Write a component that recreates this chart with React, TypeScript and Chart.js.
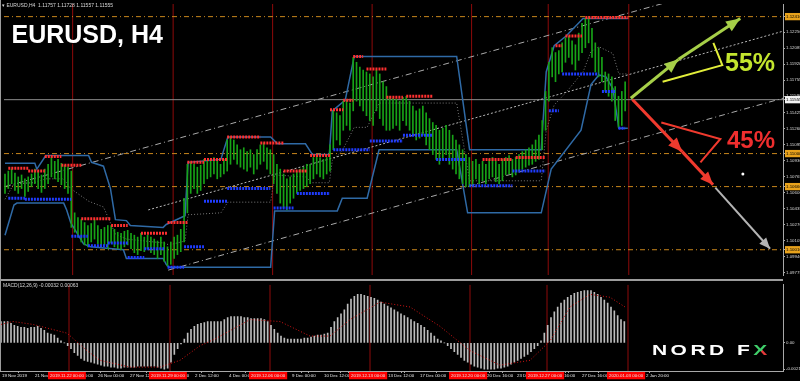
import React, { useEffect, useRef } from "react";
import { Chart, registerables } from "chart.js";
Chart.register(...registerables);

// ---------- price bars (H4), one per bar index ----------
const barHigh = [
  1.1079,1.1082,1.1084,1.1080,1.1076,1.1078,1.1074,1.1076,1.1079,1.1084,
  1.1082,1.1078,1.1084,1.1089,1.1096,1.1092,1.1094,1.1090,1.1088,1.1086,
  1.1082,1.1039,1.1034,1.1032,1.1029,1.1026,1.1028,1.1032,1.1026,1.1022,
  1.1024,1.1026,1.1026,1.1022,1.1019,1.1018,1.1020,1.1021,1.1018,1.1016,
  1.1014,1.1018,1.1014,1.1016,1.1014,1.1012,1.1010,1.1014,1.1009,1.1004,
  1.1009,1.1014,1.1016,1.1022,1.1054,1.1089,1.1091,1.1089,1.1086,1.1088,
  1.1094,1.1092,1.1094,1.1096,1.1092,1.1089,1.1094,1.1114,1.1117,1.1114,
  1.1109,1.1104,1.1106,1.1102,1.1104,1.1099,1.1104,1.1109,1.1111,1.1106,
  1.1104,1.1099,1.1089,1.1084,1.1079,1.1074,1.1076,1.1079,1.1082,1.1084,
  1.1086,1.1089,1.1089,1.1096,1.1098,1.1096,1.1094,1.1096,1.1109,1.1144,
  1.1142,1.1139,1.1154,1.1155,1.1152,1.1199,1.1194,1.1189,1.1186,1.1184,
  1.1182,1.1179,1.1186,1.1182,1.1174,1.1169,1.1159,1.1157,1.1156,1.1154,
  1.1158,1.1159,1.1154,1.1149,1.1144,1.1146,1.1149,1.1142,1.1136,1.1132,
  1.1129,1.1124,1.1126,1.1129,1.1124,1.1119,1.1114,1.1109,1.1104,1.1099,
  1.1096,1.1092,1.1094,1.1089,1.1092,1.1089,1.1094,1.1096,1.1092,1.1089,
  1.1094,1.1096,1.1098,1.1094,1.1096,1.1099,1.1102,1.1104,1.1106,1.1109,
  1.1114,1.1119,1.1134,1.1164,1.1194,1.1209,1.1204,1.1206,1.1214,1.1219,
  1.1221,1.1216,1.1212,1.1224,1.1234,1.1239,1.1241,1.1229,1.1214,1.1209,
  1.1199,1.1184,1.1182,1.1179,1.1169,1.1159,1.1164,1.1174
];
const barLow = [
  1.1059,1.1064,1.1069,1.1062,1.1059,1.1064,1.1056,1.1061,1.1066,1.1069,
  1.1064,1.1060,1.1064,1.1069,1.1076,1.1074,1.1071,1.1068,1.1064,1.1059,
  1.1024,1.1019,1.1014,1.1009,1.1006,1.1004,1.1009,1.1012,1.1007,1.1004,
  1.1006,1.1002,1.1008,1.1004,1.1002,1.1001,1.1004,1.1006,1.1002,1.0998,
  1.0996,1.1000,1.0999,1.1002,1.0998,1.0996,1.0992,1.0996,1.0989,1.0984,
  1.0986,1.0992,1.0996,1.0999,1.1009,1.1039,1.1059,1.1064,1.1059,1.1062,
  1.1069,1.1074,1.1076,1.1079,1.1074,1.1076,1.1079,1.1082,1.1089,1.1094,
  1.1089,1.1086,1.1084,1.1082,1.1086,1.1079,1.1084,1.1089,1.1092,1.1084,
  1.1079,1.1069,1.1059,1.1049,1.1044,1.1042,1.1049,1.1054,1.1059,1.1062,
  1.1064,1.1066,1.1069,1.1074,1.1079,1.1076,1.1074,1.1079,1.1082,1.1104,
  1.1114,1.1109,1.1124,1.1129,1.1124,1.1144,1.1154,1.1149,1.1144,1.1139,
  1.1134,1.1129,1.1144,1.1136,1.1129,1.1124,1.1124,1.1126,1.1129,1.1124,
  1.1134,1.1129,1.1124,1.1119,1.1114,1.1116,1.1119,1.1109,1.1104,1.1099,
  1.1094,1.1089,1.1094,1.1099,1.1089,1.1084,1.1079,1.1074,1.1069,1.1066,
  1.1066,1.1067,1.1074,1.1069,1.1072,1.1069,1.1074,1.1076,1.1071,1.1069,
  1.1072,1.1078,1.1079,1.1076,1.1078,1.1082,1.1084,1.1086,1.1088,1.1089,
  1.1092,1.1094,1.1104,1.1124,1.1154,1.1179,1.1174,1.1182,1.1184,1.1194,
  1.1199,1.1192,1.1186,1.1196,1.1204,1.1209,1.1214,1.1199,1.1184,1.1179,
  1.1174,1.1164,1.1159,1.1154,1.1134,1.1127,1.1129,1.1144
];

// ---------- fractal resistance / support steps [startBar, endBar, price] ----------
const resistSteps = [
  [1,7,1.1085],[7,12,1.1082],[12,17,1.1097],[17,23,1.1088],[23,32,1.1033],[32,37,1.1026],
  [41,49,1.1018],[49,55,1.1029],[55,60,1.1091],[60,67,1.1094],[67,77,1.1117],[77,84,1.1111],
  [84,91,1.1082],[92,98,1.1098],[98,102,1.1145],[102,105,1.1155],[105,108,1.1200],[109,115,1.1187],
  [115,120,1.1158],[121,129,1.1159],[144,153,1.1094],[154,163,1.1096],[166,168,1.1211],
  [169,174,1.1221],[175,188,1.1240]
];
const supportSteps = [
  [1,6,1.1054],[6,20,1.1053],[20,25,1.1015],[25,31,1.1005],[31,37,1.1008],[37,42,1.0993],
  [42,48,1.1002],[49,54,1.0983],[54,60,1.1004],[60,67,1.1051],[67,80,1.1064],[81,87,1.1044],
  [88,98,1.1059],[99,110,1.1104],[110,120,1.1113],[120,129,1.1119],[130,139,1.1094],
  [140,153,1.1067],[153,163,1.1082],[164,167,1.1144],[168,179,1.1182],[180,184,1.1164],[185,187,1.1126]
];

// ---------- price channel (upper / lower / middle) [bar, price] ----------
const chanUpper = [
  [0,1.1090],[9,1.1090],[9.6,1.1084],[12.3,1.1098],[25.2,1.1098],[26.1,1.1091],[29.7,1.1087],
  [31.8,1.1064],[33.3,1.1032],[36.6,1.1031],[37.8,1.1026],[47.7,1.1024],[48.6,1.1027],[54.3,1.1036],
  [55.2,1.1091],[65.1,1.1094],[67.2,1.1117],[80.1,1.1117],[82.2,1.1110],[90.6,1.1110],[92.7,1.1099],
  [97.8,1.1099],[98.7,1.1144],[102.6,1.1155],[105.3,1.1200],[136.2,1.1200],[140.1,1.1104],
  [161.7,1.1104],[163.2,1.1184],[165.6,1.1211],[169.2,1.1221],[174.3,1.1239],[187.8,1.1239]
];
const chanLower = [
  [0,1.1016],[2.7,1.1047],[3.6,1.1049],[17.7,1.1049],[18.6,1.1042],[19.8,1.1029],[23.7,1.1007],
  [25.8,1.1004],[35.7,1.1001],[36.6,1.0992],[47.7,1.0992],[48.6,1.0986],[49.5,1.0983],[80.1,1.0983],
  [81.3,1.1041],[100.2,1.1041],[101.7,1.1054],[109.2,1.1054],[112.8,1.1104],[136.2,1.1104],
  [139.5,1.1039],[161.7,1.1039],[164.7,1.1084],[173.7,1.1124],[176.7,1.1171],[179.1,1.1181],
  [181.2,1.1179],[183.3,1.1167],[185.1,1.1126],[187.8,1.1126]
];
const chanMiddle = [
  [0,1.1053],[2.7,1.1069],[8.7,1.1070],[12.3,1.1074],[17.7,1.1074],[19.8,1.1064],[25.2,1.1051],
  [29.7,1.1045],[33.3,1.1017],[36.6,1.1012],[47.7,1.1008],[49.5,1.1006],[54.3,1.1010],[55.2,1.1037],
  [65.1,1.1039],[67.2,1.1050],[80.1,1.1050],[81.3,1.1078],[90.6,1.1076],[92.7,1.1070],[97.8,1.1070],
  [98.7,1.1093],[101.7,1.1103],[105.3,1.1127],[109.2,1.1127],[112.8,1.1152],[136.2,1.1152],
  [140.1,1.1072],[161.7,1.1072],[163.2,1.1124],[165.6,1.1150],[169.2,1.1163],[174.3,1.1184],
  [176.7,1.1205],[179.1,1.1210],[183.3,1.1203],[185.1,1.1182],[187.8,1.1182]
];

// ---------- trend channel lines ----------
const trendUpper = [[0,1.1066],[234.6,1.1289]];
const trendMiddle = [[43.2,1.1042],[234.6,1.1226]];
const trendLower = [[49.2,1.0980],[234.6,1.1157]];

// ---------- horizontal levels ----------
const levelPrices = [1.1241, 1.1100, 1.1066, 1.1001];
const lastPrice = 1.11555;

// ---------- forecast arrows ----------
const upArrow1 = [[188.7,1.1157],[203.1,1.1197]];
const upArrow2 = [[203.1,1.1197],[221.7,1.1239]];
const upBracket = [[198.3,1.1174],[216.3,1.1191],[213.6,1.1214]];
const downArrow1 = [[189.2,1.11557],[204.2,1.1102]];
const downArrow2 = [[204.2,1.1102],[213.5,1.1068]];
const downBracket = [[197.9,1.1132],[215.7,1.1115],[209.7,1.1091]];
const grayArrow = [[214.2,1.1065],[230.7,1.1002]];
const markerPoint = [222.5, 1.1079];

// ---------- time axis ----------
const weekBars = [20.4, 50.7, 80.7, 110.7, 140.7, 163.8, 188.1];
const weekLabels = ["2019.11.22 00:00","2019.11.29 00:00","2019.12.06 00:00","2019.12.13 00:00","2019.12.20 00:00","2019.12.27 00:00","2020.01.03 00:00"];
const timeBars = [0.3,10.2,19.8,29.1,38.7,48.6,58.2,68.4,78.3,87.3,96.9,106.8,116.1,125.7,135.6,145.8,154.8,164.4,174.3,184.2,193.5];
const timeLabels = ["19 Nov 2019","21 Nov 00:00","22 Nov 16:00","26 Nov 00:00","27 Nov 12:00","29 Nov 04:00","2 Dec 12:00","4 Dec 00:00","5 Dec 16:00","9 Dec 00:00","10 Dec 12:00","12 Dec 00:00","13 Dec 12:00","17 Dec 00:00","18 Dec 12:00","20 Dec 16:00","23 Dec 12:00","24 Dec 16:00","27 Dec 16:00","31 Dec 12:00","2 Jan 20:00"];

// ---------- price axis ticks ----------
const priceTicks = [1.09775,1.09940,1.10105,1.10270,1.10435,1.10600,1.10765,1.10930,1.11095,1.11260,1.11425,1.11590,1.11755,1.11920,1.12085,1.12250];

// ---------- MACD(12,26,9), values in 1e-5 ----------
const macdHist = [
  176,176,176,160,144,136,128,128,120,128,128,136,120,104,80,72,64,40,16,0,
  -24,-48,-80,-104,-128,-144,-152,-160,-168,-176,
  -184,-192,-192,-200,-200,-208,-208,-200,-200,-200,
  -200,-192,-192,-192,-192,-192,-192,-200,-208,-216,
  -208,-160,-96,-48,-8,32,80,112,136,152,
  160,168,176,176,176,176,176,192,208,216,
  216,216,216,208,208,200,200,200,200,192,
  176,144,112,80,56,40,32,32,32,32,
  32,40,40,48,56,64,64,72,80,128,
  176,208,240,272,320,360,384,400,400,392,
  384,376,368,352,336,320,304,288,272,256,
  240,224,208,192,176,160,144,128,104,80,
  56,32,16,0,-24,-48,-72,-96,-120,-144,
  -160,-176,-192,-200,-208,-216,-216,-216,-216,-208,
  -208,-200,-192,-176,-160,-144,-128,-112,-96,-72,
  -48,-24,16,80,144,208,256,296,328,352,
  376,392,408,416,424,432,432,432,416,400,
  376,352,328,296,264,224,192,176
];
const macdSignal = [
  [0,152],[3.6,176],[9.6,152],[19.8,80],[25.8,-64],[29.7,-144],[38.7,-200],[47.7,-200],[53.7,-144],
  [59.7,-24],[64.2,32],[74.7,192],[83.7,176],[92.7,56],[98.7,56],[104.7,192],[113.7,336],[122.7,296],
  [131.7,136],[140.7,-64],[149.7,-184],[158.7,-144],[164.7,16],[170.7,296],[176.7,400],[182.7,376],[187.2,296]
];
const macdTicks = [0, -217];
const MACD_UNIT = 1e-5;

const X_MIN = -0.3;
const X_MAX = 234.6;

const pts = (arr: number[][]) => arr.map(([x, y]) => ({ x, y }));
const steps = (segs: number[][]) => {
  const out: any[] = [];
  segs.forEach(([a, b, v]) => { out.push({ x: a, y: v }, { x: b, y: v }, { x: b, y: null }); });
  return out;
};
const verticals = (xs: number[], lo: number, hi: number) => {
  const out: any[] = [];
  xs.forEach((x) => { out.push({ x, y: lo }, { x, y: hi }, { x, y: null }); });
  return out;
};

const arrowPlugin = {
  id: "arrowHeads",
  afterDatasetsDraw(chart: any) {
    const ctx = chart.ctx;
    chart.data.datasets.forEach((ds: any, i: number) => {
      if (!ds.arrowSize) return;
      const meta = chart.getDatasetMeta(i);
      const p = meta.data;
      if (p.length < 2) return;
      const a = p[p.length - 2], b = p[p.length - 1];
      const ang = Math.atan2(b.y - a.y, b.x - a.x);
      const L = ds.arrowSize, W = ds.arrowSize * 0.42;
      const bx = b.x - L * Math.cos(ang), by = b.y - L * Math.sin(ang);
      ctx.save();
      ctx.fillStyle = ds.borderColor;
      ctx.beginPath();
      ctx.moveTo(b.x, b.y);
      ctx.lineTo(bx + W * Math.sin(ang), by - W * Math.cos(ang));
      ctx.lineTo(bx - W * Math.sin(ang), by + W * Math.cos(ang));
      ctx.closePath();
      ctx.fill();
      ctx.restore();
    });
  },
};

const AXIS_FONT = { family: "Liberation Sans, Arial, sans-serif", size: 4.4 };

export default function App() {
  const mainRef = useRef<HTMLCanvasElement>(null);
  const macdRef = useRef<HTMLCanvasElement>(null);

  useEffect(() => {
    const yMin = 1.0975, yMax = 1.1254;
    const lineBase = { type: "line", pointRadius: 0, fill: false, spanGaps: false, tension: 0 };
    const mainTicks = [
      ...priceTicks.map((v) => ({ value: v, kind: 0 })),
      ...levelPrices.map((v) => ({ value: v, kind: 1 })),
      { value: lastPrice, kind: 2 },
    ];
    const main = new Chart(mainRef.current as HTMLCanvasElement, {
      type: "bar",
      data: {
        datasets: [
          { ...lineBase, order: 20, data: verticals(weekBars, yMin, yMax), borderColor: "#8e0a0a", borderWidth: 1 },
          ...levelPrices.map((v) => ({ ...lineBase, order: 19, data: [{ x: X_MIN, y: v }, { x: X_MAX, y: v }], borderColor: "#c8861c", borderWidth: 1, borderDash: [5, 3, 1, 3] })),
          { ...lineBase, order: 18, data: [{ x: X_MIN, y: lastPrice }, { x: X_MAX, y: lastPrice }], borderColor: "#8c8c8c", borderWidth: 1 },
          { ...lineBase, order: 17, data: pts(trendUpper), borderColor: "#aaaaaa", borderWidth: 1, borderDash: [6, 3, 1, 3] },
          { ...lineBase, order: 17, data: pts(trendMiddle), borderColor: "#b8b8b8", borderWidth: 1, borderDash: [2, 2] },
          { ...lineBase, order: 17, data: pts(trendLower), borderColor: "#aaaaaa", borderWidth: 1, borderDash: [6, 3, 1, 3] },
          { ...lineBase, order: 16, data: pts(chanMiddle), borderColor: "#7a7a7a", borderWidth: 1, borderDash: [1, 2] },
          { ...lineBase, order: 15, data: pts(chanUpper), borderColor: "#2f6aa6", borderWidth: 1.5 },
          { ...lineBase, order: 15, data: pts(chanLower), borderColor: "#2f6aa6", borderWidth: 1.5 },
          { type: "bar", order: 12, data: barHigh.map((h, i) => ({ x: i, y: [barLow[i], h] })), backgroundColor: "#17a317", borderWidth: 0, barThickness: 1 },
          { ...lineBase, order: 10, data: steps(resistSteps), borderColor: "#ff3030", borderWidth: 3, borderDash: [2, 1] },
          { ...lineBase, order: 10, data: steps(supportSteps), borderColor: "#1f3cff", borderWidth: 3, borderDash: [2, 1] },
          { ...lineBase, order: 5, data: pts(grayArrow), borderColor: "#b4b4b4", borderWidth: 2, arrowSize: 11 },
          { ...lineBase, order: 4, data: pts(downBracket), borderColor: "#f03a2e", borderWidth: 2 },
          { ...lineBase, order: 4, data: pts(downArrow1), borderColor: "#f03a2e", borderWidth: 3, arrowSize: 14 },
          { ...lineBase, order: 4, data: pts(downArrow2), borderColor: "#f03a2e", borderWidth: 3, arrowSize: 13 },
          { ...lineBase, order: 3, data: pts(upBracket), borderColor: "#e2ee3a", borderWidth: 2 },
          { ...lineBase, order: 3, data: pts(upArrow1), borderColor: "#a6cf48", borderWidth: 3, arrowSize: 14 },
          { ...lineBase, order: 3, data: pts(upArrow2), borderColor: "#a6cf48", borderWidth: 3, arrowSize: 14 },
          { type: "scatter", order: 2, data: [{ x: markerPoint[0], y: markerPoint[1] }], pointRadius: 1.5, backgroundColor: "#ffffff", borderWidth: 0 },
        ] as any,
      },
      options: {
        responsive: false,
        animation: false,
        events: [],
        layout: { padding: 0 },
        plugins: { legend: { display: false }, tooltip: { enabled: false } },
        scales: {
          x: { type: "linear", display: false, min: X_MIN, max: X_MAX, offset: false },
          y: {
            type: "linear", position: "right", min: yMin, max: yMax, bounds: "data",
            afterFit: (s: any) => { s.width = 17; },
            afterBuildTicks: (s: any) => { s.ticks = mainTicks.map((t) => ({ ...t })); },
            border: { color: "#a8a8a8", width: 1 },
            grid: { drawOnChartArea: false, drawTicks: true, tickLength: 2, color: "#a8a8a8" },
            ticks: {
              autoSkip: false, padding: 1, font: AXIS_FONT,
              callback: (v: any) => Number(v).toFixed(5),
              color: (c: any) => (c.tick && c.tick.kind ? "#000000" : "#d8d8d8"),
              showLabelBackdrop: (c: any) => !!(c.tick && c.tick.kind),
              backdropColor: (c: any) => (c.tick && c.tick.kind === 2 ? "#f2f2f2" : "#e8a21c"),
              backdropPadding: { left: 1, right: 4, top: 1, bottom: 1 },
            } as any,
          },
        },
      },
      plugins: [arrowPlugin],
    } as any);

    const mMin = -232 * MACD_UNIT, mMax = 480 * MACD_UNIT;
    const xTicks = [
      ...timeBars.map((v, i) => ({ value: v, lab: timeLabels[i], red: false })),
      ...weekBars.map((v, i) => ({ value: v - 5.7, lab: weekLabels[i], red: true })),
    ];
    const macd = new Chart(macdRef.current as HTMLCanvasElement, {
      type: "bar",
      data: {
        datasets: [
          { ...lineBase, order: 20, data: verticals(weekBars, mMin, mMax), borderColor: "#8e0a0a", borderWidth: 1 },
          { type: "bar", order: 10, data: macdHist.map((v, i) => ({ x: i, y: v * MACD_UNIT })), backgroundColor: "#bdbdbd", borderWidth: 0, barThickness: 1 },
          { ...lineBase, order: 5, data: macdSignal.map(([x, y]) => ({ x, y: y * MACD_UNIT })), borderColor: "#d21414", borderWidth: 1, borderDash: [1, 2] },
        ] as any,
      },
      options: {
        responsive: false,
        animation: false,
        events: [],
        layout: { padding: { top: 1 } },
        plugins: { legend: { display: false }, tooltip: { enabled: false } },
        scales: {
          x: {
            type: "linear", min: X_MIN, max: X_MAX, offset: false,
            afterFit: (s: any) => { s.height = 10; },
            afterBuildTicks: (s: any) => { s.ticks = xTicks.map((t) => ({ ...t })); },
            border: { color: "#a8a8a8", width: 1 },
            grid: { drawOnChartArea: false, drawTicks: true, tickLength: 2, color: "#a8a8a8" },
            ticks: {
              autoSkip: false, maxRotation: 0, minRotation: 0, align: "start", padding: 0, font: AXIS_FONT,
              color: "#e6e6e6",
              callback: (_v: any, i: number) => xTicks[i] ? xTicks[i].lab : "",
              showLabelBackdrop: (c: any) => !!(c.tick && c.tick.red),
              backdropColor: "#ff0000",
              backdropPadding: { left: 2, right: 2, top: 1, bottom: 1 },
            } as any,
          },
          y: {
            type: "linear", position: "right", min: mMin, max: mMax, bounds: "data",
            afterFit: (s: any) => { s.width = 17; },
            afterBuildTicks: (s: any) => { s.ticks = macdTicks.map((v) => ({ value: v * MACD_UNIT })); },
            border: { color: "#a8a8a8", width: 1 },
            grid: { drawOnChartArea: false, drawTicks: true, tickLength: 2, color: "#a8a8a8" },
            ticks: {
              autoSkip: false, padding: 1, font: AXIS_FONT, color: "#d8d8d8",
              callback: (v: any) => (Number(v) === 0 ? "0.00" : Number(v).toFixed(5)),
            },
          },
        },
      },
    } as any);

    return () => { main.destroy(); macd.destroy(); };
  }, []);

  const small: React.CSSProperties = { position: "absolute", fontFamily: "Liberation Sans, Arial, sans-serif", fontSize: 5, lineHeight: "6px", color: "#d8d8d8", whiteSpace: "nowrap" };
  const big: React.CSSProperties = { position: "absolute", fontFamily: "Liberation Sans, Arial, sans-serif", fontWeight: 700, lineHeight: 1, whiteSpace: "nowrap" };

  return (
    <div style={{ position: "fixed", left: 0, top: 0, width: 800, height: 381, background: "#000", overflow: "hidden" }}>
      <canvas ref={mainRef} width={800} height={279} style={{ position: "absolute", left: 0, top: 0, display: "block" }} />
      <div style={{ position: "absolute", left: 0, top: 279, width: 783, height: 2, background: "#9c9c9c" }} />
      <canvas ref={macdRef} width={800} height={100} style={{ position: "absolute", left: 0, top: 281, display: "block" }} />
      <div style={{ position: "absolute", left: 0, top: 0, width: 1, height: 371, background: "#9c9c9c" }} />
      <div style={{ ...small, left: 2, top: 2 }}>▾ EURUSD,H4&nbsp; 1.11757 1.11728 1.11557 1.11555</div>
      <div style={{ ...small, left: 3, top: 282 }}>MACD(12,26,9) -0.00032 0.00063</div>
      <div style={{ ...big, left: 11.5, top: 22, fontSize: 25, color: "#ffffff", textShadow: "0 0 2px #000, 1px 1px 1px #000" }}>EURUSD, H4</div>
      <div style={{ ...big, left: 725, top: 50, fontSize: 25, color: "#c3e52e" }}>55%</div>
      <div style={{ ...big, left: 727, top: 127.6, fontSize: 24, color: "#ef2e2e" }}>45%</div>
      <div style={{ ...big, left: 652, top: 343.2, fontSize: 14, color: "#ffffff", letterSpacing: 2.3, transform: "scaleX(1.5)", transformOrigin: "left top" }}>
        NORD F<span style={{ background: "linear-gradient(to bottom right, #3fcf6a 52%, #e53a3a 52%)", WebkitBackgroundClip: "text", backgroundClip: "text", color: "transparent" }}>X</span>
      </div>
    </div>
  );
}
